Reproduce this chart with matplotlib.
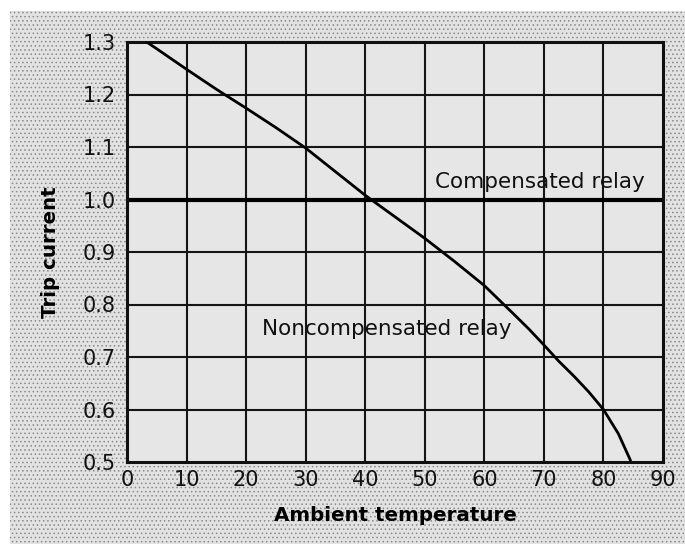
import numpy as np
import matplotlib
matplotlib.use("Agg")
import matplotlib.pyplot as plt
from matplotlib.patches import Rectangle

# Relay trip current vs ambient temperature
temps = [3.3, 5, 10, 15, 20, 25, 30, 35, 40, 45, 50, 55, 60, 65, 67.5, 70,
         72.5, 75, 77.5, 80, 82.5, 84.5]
trip_noncomp = [1.30, 1.287, 1.248, 1.210, 1.174, 1.137, 1.098, 1.053, 1.008,
                0.967, 0.926, 0.882, 0.836, 0.781, 0.753, 0.723, 0.692, 0.664,
                0.634, 0.60, 0.554, 0.504]
trip_comp = 1.0

x_ticks = list(range(0, 100, 10))
y_ticks = [0.5, 0.6, 0.7, 0.8, 0.9, 1.0, 1.1, 1.2, 1.3]

plt.rcParams['font.family'] = ['DejaVu Sans']
plt.rcParams['hatch.linewidth'] = 0.6

fig = plt.figure(figsize=(6.85, 5.44), dpi=100)
fig.patch.set_facecolor('white')

# stippled backdrop
bg = Rectangle((10 / 685, 0), 1 - 10 / 685, 1 - 11 / 544, transform=fig.transFigure,
               facecolor='#e2e2e2', edgecolor='#8a8a8a', linewidth=0,
               hatch='....', zorder=-5)
fig.patches.append(bg)

ax = fig.add_axes([127 / 685, 1 - 462 / 544, (663 - 127) / 685, (462 - 42) / 544])
ax.set_facecolor('#e6e6e6')
ax.set_xlim(0, 90)
ax.set_ylim(0.5, 1.3)

for x in x_ticks[1:-1]:
    ax.axvline(x, color='#151515', lw=1.5, zorder=1)
for y in y_ticks[1:-1]:
    if y != 1.0:
        ax.axhline(y, color='#151515', lw=1.5, zorder=1)

ax.axhline(trip_comp, color='black', lw=3, zorder=2)
ax.plot(temps, trip_noncomp, color='black', lw=2, zorder=3)

ax.text(69.35, 1.021, 'Compensated relay', fontsize=15.5, ha='center',
        va='baseline', color='#111111')
ax.text(43.55, 0.742, 'Noncompensated relay', fontsize=15.5, ha='center',
        va='baseline', color='#111111')

ax.set_xticks(x_ticks)
ax.set_yticks(y_ticks)
ax.set_yticklabels([f'{v:.1f}' for v in y_ticks])
ax.tick_params(length=0, labelsize=15, colors='#111111')
ax.tick_params(axis='y', pad=8)
ax.tick_params(axis='x', pad=6)
for s in ax.spines.values():
    s.set_linewidth(2.2)
    s.set_color('#111111')

ax.set_xlabel('Ambient temperature', fontsize=14.3, fontweight='bold', labelpad=11)
ax.set_ylabel('Trip current', fontsize=14.3, fontweight='bold', labelpad=16)

fig.savefig('out.png', dpi=100)
